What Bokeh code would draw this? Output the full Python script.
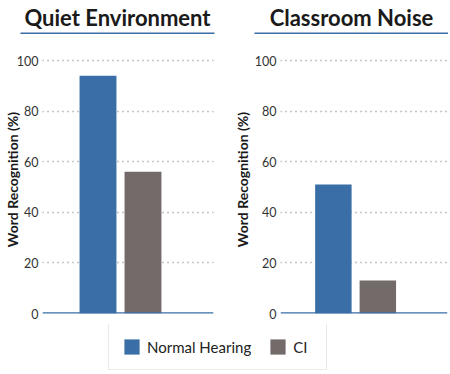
from bokeh.plotting import figure
from bokeh.models import Range1d, Span, Legend, LegendItem, ColumnDataSource
from bokeh.layouts import column, row
from bokeh.embed import file_html
from bokeh.resources import INLINE

# ---- data ----
panels = ["Quiet Environment", "Classroom Noise"]
groups = ["Normal Hearing", "CI"]
quiet_values = [94, 56]
noise_values = [51, 13]
y_ticks = [0, 20, 40, 60, 80, 100]
y_label = "Word Recognition (%)"

BLUE = "#3a6ea6"
GRAY = "#736b69"
FONT = "Lato"
colors = [BLUE, GRAY]


def title_strip(text, width, border_left, border_right):
    # the frame itself is the blue rule under the heading
    t = figure(width=width, height=34, output_backend="svg", toolbar_location=None,
               x_range=Range1d(0, 1), y_range=Range1d(0, 1),
               min_border_left=border_left, min_border_right=border_right,
               min_border_top=31, min_border_bottom=0)
    t.axis.visible = False
    t.grid.visible = False
    t.outline_line_color = None
    t.background_fill_color = BLUE
    t.title.text = text
    t.title.align = "center"
    t.title.text_font = FONT
    t.title.text_font_size = "22px"
    t.title.text_font_style = "bold"
    t.title.text_color = "#1a1a1a"
    t.title.standoff = 3
    return t


def panel(values, width, border_left, border_right, x_start, x_end, label_standoff):
    p = figure(width=width, height=290, output_backend="svg", toolbar_location=None,
               x_range=Range1d(x_start, x_end), y_range=Range1d(0, 105.93),
               min_border_left=border_left, min_border_right=border_right,
               min_border_top=11, min_border_bottom=11)
    p.outline_line_color = None
    src = ColumnDataSource(dict(x=list(range(len(groups))), top=values, color=colors))
    p.vbar(x="x", top="top", width=0.82, fill_color="color", line_color=None, source=src)
    p.xaxis.visible = False
    p.xgrid.visible = False
    ax = p.yaxis[0]
    ax.ticker = y_ticks
    ax.axis_line_color = None
    ax.major_tick_line_color = None
    ax.minor_tick_line_color = None
    ax.major_tick_out = 0
    ax.major_tick_in = 0
    ax.minor_tick_out = 0
    ax.minor_tick_in = 0
    ax.major_label_text_font = FONT
    ax.major_label_text_font_size = "12.5px"
    ax.major_label_text_color = "#333333"
    ax.major_label_standoff = 4
    ax.axis_label = y_label
    ax.axis_label_text_font = FONT
    ax.axis_label_text_font_size = "14px"
    ax.axis_label_text_font_style = "bold"
    ax.axis_label_text_color = "#1a1a1a"
    ax.axis_label_standoff = label_standoff
    p.ygrid.grid_line_color = "#8a8a8a"
    p.ygrid.grid_line_dash = "1 4"
    p.ygrid.grid_line_width = 1.3
    p.add_layout(Span(location=0, dimension="width", line_color=BLUE, line_width=2.5))
    return p


t1 = title_strip(panels[0], 230, 20, 16)
t2 = title_strip(panels[1], 218, 24, 0)
p1 = panel(quiet_values, 230, 42, 17, -1.2333, 2.5667, -7)
p2 = panel(noise_values, 218, 48, 1, -1.1889, 2.5667, 1)

# legend strip
lg = figure(width=448, height=48, output_backend="svg", toolbar_location=None,
            x_range=Range1d(0, 1), y_range=Range1d(0, 1), min_border=0)
lg.axis.visible = False
lg.grid.visible = False
lg.outline_line_color = None
items = []
for g, c in zip(groups, colors):
    r = lg.vbar(x=[0], top=[0], width=0.0, fill_color=c, line_color=None)
    items.append(LegendItem(label=g, renderers=[r]))
legend = Legend(items=items, orientation="horizontal", location=(108, 2),
                glyph_width=19, glyph_height=19, label_standoff=6, spacing=17,
                padding=13, margin=0, label_text_font=FONT, label_text_font_size="15px",
                label_text_color="#222222", border_line_color="#d4d4d4", border_line_width=1.5,
                label_height=19)
lg.add_layout(legend, "center")

layout = column(row(t1, t2), row(p1, p2), lg)
open("out.html", "w").write(file_html(layout, INLINE))
